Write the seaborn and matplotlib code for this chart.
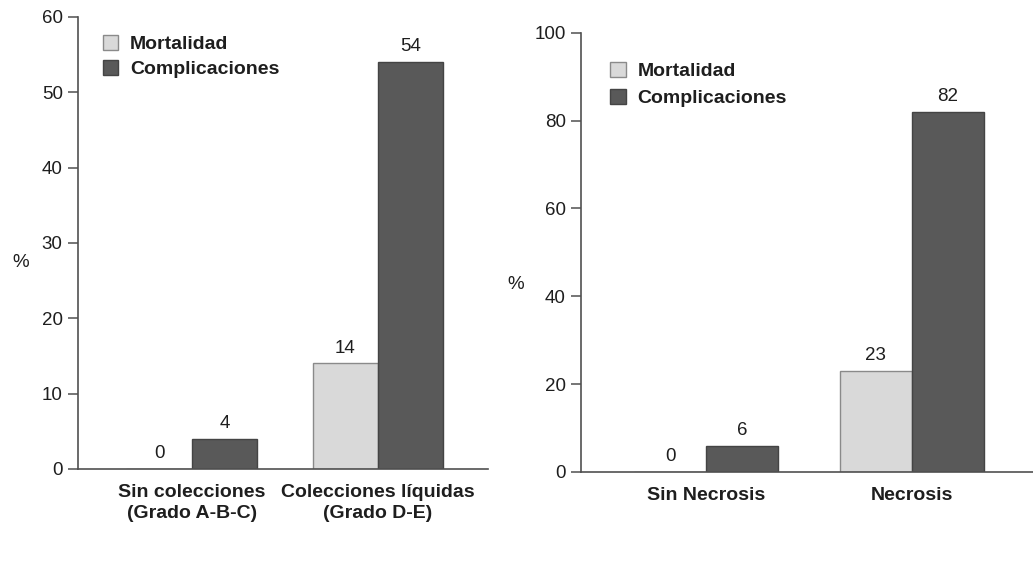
import matplotlib
matplotlib.use("Agg")
import matplotlib.pyplot as plt
import seaborn as sns
import pandas as pd

sns.set_theme(style="white")
plt.rcParams["font.family"] = ["Liberation Sans", "DejaVu Sans"]

# Panel 1: fluid collections
cats_col = ["Sin colecciones\n(Grado A-B-C)", "Colecciones líquidas\n(Grado D-E)"]
mort_col = [0, 14]
comp_col = [4, 54]

# Panel 2: necrosis
cats_nec = ["Sin Necrosis", "Necrosis"]
mort_nec = [0, 23]
comp_nec = [6, 82]

series = ["Mortalidad", "Complicaciones"]
colors = {"Mortalidad": "#d9d9d9", "Complicaciones": "#595959"}
edges = {"Mortalidad": "#8a8a8a", "Complicaciones": "#444444"}

TEXT = "#1e1e1e"
AXC = "#505050"
FS = 13.5
FS_BOLD = 14


def long_table(cats, mort, comp):
    rows = []
    for c, m, k in zip(cats, mort, comp):
        rows.append({"cat": c, "serie": "Mortalidad", "val": m})
        rows.append({"cat": c, "serie": "Complicaciones", "val": k})
    return pd.DataFrame(rows)


fig = plt.figure(figsize=(10.33, 5.84), dpi=100)
ax1 = fig.add_axes([0.0755, 0.197, 0.397, 0.774])
ax2 = fig.add_axes([0.5624, 0.192, 0.4376, 0.752])


def draw(ax, cats, mort, comp, ymax, step, leg_anchor, leg_space, lab_xy):
    df = long_table(cats, mort, comp)
    sns.barplot(data=df, x="cat", y="val", hue="serie", order=cats,
                hue_order=series, palette=colors, width=0.7, gap=0,
                saturation=1, ax=ax, errorbar=None, legend=True)
    for cont, s in zip(ax.containers, series):
        for p in cont:
            p.set_edgecolor(edges[s])
            p.set_linewidth(1.0)
        ax.bar_label(cont, labels=[f"{v:g}" for v in cont.datavalues],
                     padding=5, fontsize=FS, color=TEXT)
    ax.set_ylim(0, ymax)
    ax.set_xlim(-0.61, 1.59)
    ax.set_yticks(range(0, ymax + 1, step))
    ax.set_xlabel("")
    ax.set_ylabel("%", rotation=0, fontsize=FS, color=TEXT,
                  ha="center", va="center")
    ax.yaxis.set_label_coords(*lab_xy)
    for side in ["top", "right"]:
        ax.spines[side].set_visible(False)
    for side in ["left", "bottom"]:
        ax.spines[side].set_color(AXC)
        ax.spines[side].set_linewidth(1.2)
    ax.tick_params(axis="y", direction="out", length=7, width=1.1,
                   color=AXC, pad=4, labelsize=FS, labelcolor=TEXT, left=True)
    ax.tick_params(axis="x", length=0, pad=11, labelsize=FS_BOLD, labelcolor=TEXT)
    for t in ax.get_xticklabels():
        t.set_fontweight("bold")
        t.set_linespacing(1.3)
    leg = ax.legend(loc="upper left", bbox_to_anchor=leg_anchor, frameon=False,
                    fontsize=FS_BOLD, handlelength=0.8, handleheight=0.8,
                    handletextpad=0.6, labelspacing=leg_space, borderpad=0,
                    borderaxespad=0)
    for t in leg.get_texts():
        t.set_fontweight("bold")
        t.set_color(TEXT)
    for h, s in zip(leg.legend_handles, series):
        h.set_edgecolor(edges[s])


draw(ax1, cats_col, mort_col, comp_col, 60, 10, (0.06, 0.96), 0.36, (-0.14, 0.456))
draw(ax2, cats_nec, mort_nec, comp_nec, 100, 20, (0.065, 0.934), 0.46, (-0.145, 0.426))

fig.savefig("out.png", dpi=100)
